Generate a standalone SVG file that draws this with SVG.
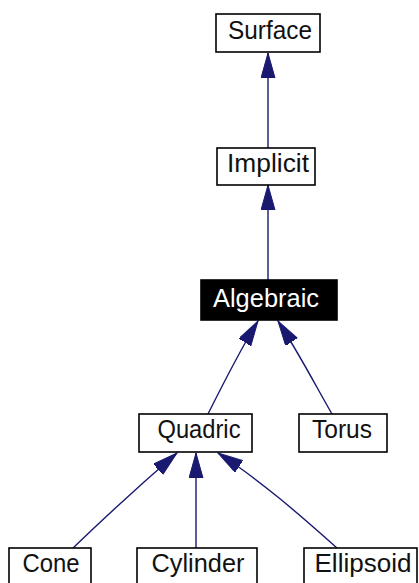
<svg xmlns="http://www.w3.org/2000/svg" width="419" height="583" viewBox="0 0 419 583">
<style>
.box{fill:#fff;stroke:#000;stroke-width:1.6}
.sel{fill:#000;stroke:#000;stroke-width:1.6}
text{font-family:"Liberation Sans",Arial,sans-serif;font-size:25px;text-anchor:middle;fill:#111}
.w{fill:#fff}
.e{stroke:#191970;stroke-width:1.4;fill:none;marker-end:url(#ah)}
</style>
<defs>
<marker id="ah" markerUnits="userSpaceOnUse" markerWidth="26" markerHeight="16" refX="25" refY="7" orient="auto">
<path d="M0,0 L25,7 L0,14 Z" fill="#191970" stroke="#191970" stroke-width="1"/>
</marker>
</defs>
<g id="edges">
<path class="e" d="M268,148 L268,53"/>
<path class="e" d="M268,280 L268,185"/>
<path class="e" d="M208,414 C220,390 240,350 258,321"/>
<path class="e" d="M332,414 C318,390 300,355 278,321"/>
<path class="e" d="M73,548 C100,522 140,485 177,453"/>
<path class="e" d="M196,548 L196,453"/>
<path class="e" d="M337,548 C300,515 260,480 218,453"/>
</g>
<g id="Surface"><rect class="box" x="216" y="14" width="104" height="38"/><text x="270" y="39" textLength="84" lengthAdjust="spacingAndGlyphs">Surface</text></g>
<g id="Implicit"><rect class="box" x="217" y="148" width="98" height="37"/><text x="268" y="172" textLength="82" lengthAdjust="spacingAndGlyphs">Implicit</text></g>
<g id="Algebraic"><rect class="sel" x="201" y="280" width="136" height="40"/><text class="w" x="266" y="307" textLength="106" lengthAdjust="spacingAndGlyphs">Algebraic</text></g>
<g id="Quadric"><rect class="box" x="139" y="414" width="113" height="38"/><text x="199" y="438" textLength="83" lengthAdjust="spacingAndGlyphs">Quadric</text></g>
<g id="Torus"><rect class="box" x="299" y="414" width="88" height="38"/><text x="342" y="438" textLength="60" lengthAdjust="spacingAndGlyphs">Torus</text></g>
<g id="Cone"><rect class="box" x="9" y="548" width="82" height="39"/><text x="51" y="572" textLength="57" lengthAdjust="spacingAndGlyphs">Cone</text></g>
<g id="Cylinder"><rect class="box" x="137" y="548" width="120" height="39"/><text x="198" y="572" textLength="93" lengthAdjust="spacingAndGlyphs">Cylinder</text></g>
<g id="Ellipsoid"><rect class="box" x="304" y="548" width="113" height="39"/><text x="363" y="572" textLength="97" lengthAdjust="spacingAndGlyphs">Ellipsoid</text></g>
</svg>
